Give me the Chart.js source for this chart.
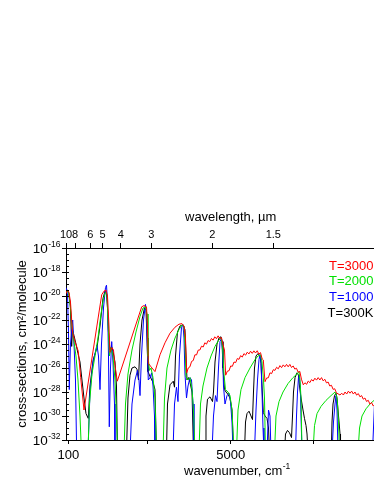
<!DOCTYPE html>
<html>
<head>
<meta charset="utf-8">
<script src="https://cdn.jsdelivr.net/npm/chart.js@4.4.1/dist/chart.umd.min.js"></script>
<style>
    html, body { margin: 0; padding: 0; background: #fff; }
    canvas { display: block; }
</style>
</head>
<body>
<canvas id="chart" width="374" height="484"></canvas>
<script>
// Datos: [número de onda (cm-1), log10 de la sección eficaz]
const red = [[31,-19.8],[76,-19.5],[121,-19.7],[166,-20.5],[227,-23],[302,-23.8],[402,-24.6],[474,-26.8],[574,-29.5],
    [1108,-19.9],[1177,-19.6],[1238,-19.5],[1283,-20],[1328,-22.5],[1358,-24.7],[1419,-24.3],[1464,-24.5],[1509,-25.8],[1579,-27.1],
    [2315,-20.9],[2384,-20.8],[2460,-20.9],[2490,-22.5],[2514,-25.6],[2596,-25.9],[2716,-26.3],
    [2867,-24.9],[3018,-23.9],[3169,-23.1],[3320,-22.6],[3440,-22.35],[3531,-22.3],[3591,-22.5],[3636,-23.5],[3673,-26.4],
    [3720,-26.0],[3770,-25.9],[3820,-25.45],[3870,-25.38],[3920,-24.9],[3970,-24.91],[4020,-24.51],[4070,-24.5],[4120,-24.18],[4170,-24.25],
    [4220,-23.9],[4270,-24.01],[4320,-23.71],[4370,-23.8],[4420,-23.54],[4470,-23.68],[4520,-23.4],[4570,-23.56],[4620,-23.32],[4670,-23.55],
    [4720,-23.46],[4770,-24.08],[4813,-24.5],[4849,-26.6],
    [4900,-26.26],[4950,-26.23],[5000,-25.83],[5050,-25.86],[5100,-25.5],[5150,-25.55],[5200,-25.21],[5250,-25.28],[5300,-24.97],[5350,-25.09],
    [5400,-24.8],[5450,-24.93],[5500,-24.68],[5550,-24.83],[5600,-24.6],[5650,-24.78],[5700,-24.57],[5750,-24.75],[5800,-24.56],[5850,-24.84],
    [5900,-24.72],[5950,-25.25],[5984,-25.33],[6035,-27.14],
    [6085,-26.83],[6135,-26.82],[6185,-26.4],[6235,-26.47],[6285,-26.14],[6335,-26.2],[6385,-25.94],[6435,-26.07],[6485,-25.8],[6535,-25.97],
    [6585,-25.74],[6635,-25.9],[6685,-25.7],[6735,-25.9],[6785,-25.7],[6835,-25.96],[6885,-25.83],[6935,-26.09],[6985,-26.02],[7035,-26.35],
    [7085,-26.28],[7135,-26.93],[7191,-27.4],
    [7240,-27.23],[7290,-27.36],[7340,-27.09],[7390,-27.22],[7440,-26.96],[7490,-27.09],[7540,-26.85],[7590,-27.01],[7640,-26.8],[7690,-27.0],
    [7740,-26.8],[7790,-27.07],[7840,-26.94],[7890,-27.24],[7940,-27.17],[7990,-27.5],[8040,-27.44],[8090,-27.78],[8140,-27.73],[8190,-28.07],
    [8299,-28.25],
    [8350,-28.1],[8400,-28.25],[8450,-28.0],[8500,-28.17],[8550,-27.93],[8600,-28.1],[8650,-27.93],[8700,-28.17],[8750,-28.0],[8800,-28.26],
    [8850,-28.13],[8900,-28.4],[8950,-28.3],[9000,-28.6],[9050,-28.5],[9100,-28.79],[9150,-28.69],[9200,-29.0],[9250,-28.88],[9300,-29.16],
    [9324,-29.1]];

const green = [[31,-19.7],[91,-19.6],[151,-20.5],[212,-22.5],[272,-23.8],[332,-25],[393,-27],[453,-30],[498,-33],
    [694,-33],[740,-29],[815,-26.5],[906,-25],[996,-23.5],[1087,-21.5],[1162,-20.2],[1222,-19.7],[1268,-19.9],[1298,-22],[1343,-25],[1388,-24.3],[1449,-25],[1509,-27],[1554,-30],[1585,-33],
    [1781,-33],[1826,-29],[1901,-26.5],[2022,-24.5],[2143,-23],[2264,-21.7],[2354,-21],[2429,-20.9],[2475,-21.5],[2505,-25],[2550,-26.2],[2596,-26],[2656,-26.8],[2716,-28.5],[2761,-33],
    [2958,-33],[3003,-28.5],[3078,-26],[3199,-24.5],[3320,-23.5],[3440,-22.8],[3531,-22.4],[3591,-22.5],[3621,-24],[3651,-26.7],[3712,-27],[3772,-26.8],[3833,-27.8],[3878,-29.5],[3923,-33],
    [4044,-33],[4089,-29],[4164,-27.5],[4285,-26],[4406,-25],[4527,-24.2],[4632,-23.7],[4708,-23.5],[4753,-24.2],[4798,-26.5],[4843,-27.8],[4919,-28],[4979,-28.3],[5040,-29.5],[5100,-33],
    [5175,-33],[5221,-29.5],[5311,-27.8],[5432,-26.8],[5583,-26],[5734,-25.3],[5824,-25],[5900,-24.9],[5945,-25.5],[5990,-27],[6020,-28.5],[6050,-33],
    [6322,-33],[6367,-30],[6458,-28.8],[6579,-28],[6729,-27.3],[6880,-26.8],[7001,-26.5],[7061,-26.3],[7092,-27.1],[7122,-28.5],[7152,-33],
    [7484,-33],[7529,-30.8],[7605,-29.8],[7725,-29.2],[7876,-28.7],[8027,-28.3],[8148,-28],[8193,-28.3],[8223,-29],[8253,-30.5],[8283,-33],
    [8842,-33],[8887,-31],[8962,-30],[9083,-29.4],[9204,-29],[9324,-28.7]];

const blue = [[31,-19.3],[76,-19.8],[106,-23],[130,-27.8],[166,-24],[233,-22],[272,-24],[317,-27],[353,-33],
    [694,-33],[755,-28],[845,-25.5],[966,-24.1],[1011,-25],[1057,-27.8],[1102,-24],[1162,-21],[1222,-19.3],[1253,-19.1],[1283,-20.5],[1313,-25],[1337,-30.9],[1373,-26],[1410,-23.8],[1449,-25.5],[1494,-29],[1509,-33],
    [1962,-33],[2022,-29],[2113,-27],[2188,-26.2],[2233,-27],[2264,-28.3],[2309,-25],[2369,-22],[2429,-20.7],[2460,-21.5],[2490,-25],[2514,-27],[2565,-26.8],[2617,-26.4],[2656,-27.5],[2701,-30],[2716,-33],
    [3259,-33],[3305,-29],[3365,-27.6],[3410,-28.8],[3455,-25],[3516,-22.6],[3561,-22.4],[3591,-23.5],[3621,-26.5],[3667,-28.5],[3712,-27.5],[3772,-26.8],[3818,-27],[3863,-29],[3893,-33],
    [4436,-33],[4481,-30],[4542,-28.3],[4587,-28.8],[4632,-26],[4678,-23.8],[4723,-23.5],[4753,-24.5],[4783,-27.5],[4828,-29],[4889,-28.3],[4949,-28.1],[4994,-28.8],[5040,-30.5],[5070,-33],
    [5718,-33],[5764,-29.5],[5809,-27],[5854,-25.3],[5885,-24.9],[5915,-25.5],[5945,-28],[5975,-31],[6005,-33],[6096,-33],[6141,-29.5],[6186,-30],[6216,-33],
    [6956,-33],[6986,-30],[7016,-28],[7046,-26.8],[7071,-26.6],[7098,-27.5],[7122,-30],[7152,-33],
    [8057,-33],[8102,-30.5],[8148,-29],[8178,-28.3],[8208,-29.5],[8238,-33],
    [9279,-33],[9339,-29]];

const black = [[31,-19.6],[76,-19.5],[121,-19.8],[166,-21],[202,-24.2],[227,-22.8],[272,-23.3],[332,-24],[393,-24.8],[453,-25.5],[513,-27],[574,-28.5],[634,-29.8],[703,-30.2],
    [755,-27.5],[854,-25.3],[966,-24.3],[1057,-22.5],[1147,-20.2],[1207,-19.6],[1253,-19.8],[1283,-21],[1313,-23],[1358,-24.5],[1404,-24.2],[1449,-24.6],[1509,-25.5],[1554,-27.5],[1585,-33],
    [1856,-33],[1901,-28.5],[1962,-26.6],[2022,-26],[2113,-25.9],[2173,-26.1],[2218,-27],[2264,-24],[2324,-22],[2399,-21],[2445,-21.2],[2475,-23.5],[2505,-26.3],[2565,-26.7],[2656,-27.2],[2716,-27.8],[2761,-33],
    [3063,-33],[3093,-29],[3169,-27.4],[3268,-27.1],[3305,-27.6],[3335,-25],[3395,-23],[3471,-22.5],[3561,-22.4],[3621,-22.8],[3651,-25],[3682,-27],[3727,-26.8],[3772,-27.2],[3833,-28],[3878,-33],
    [4225,-33],[4255,-30],[4300,-28.6],[4376,-28.4],[4451,-28.8],[4481,-28],[4527,-25.5],[4587,-24],[4647,-23.5],[4708,-23.4],[4738,-23.8],[4768,-26],[4813,-27.8],[4859,-28],[4919,-28.2],[4979,-28.5],[5040,-29.5],[5085,-33],
    [5417,-33],[5447,-30.5],[5492,-29.8],[5553,-29.6],[5613,-30],[5658,-30.3],[5688,-28],[5718,-26],[5764,-25],[5824,-24.8],[5885,-25],[5915,-25.6],[5945,-27.5],[5984,-29.7],[6035,-30],[6096,-30.2],[6141,-31],[6171,-33],
    [6624,-33],[6654,-31.5],[6714,-31.2],[6775,-31.4],[6835,-31.8],[6865,-30],[6895,-28],[6941,-26.8],[7001,-26.4],[7046,-26.6],[7076,-27.5],[7122,-28.5],[7182,-29.5],[7227,-30.2],[7273,-30.8],[7303,-31.5],[7333,-33],
    [8036,-33],[8057,-30.5],[8087,-29],[8133,-28.3],[8178,-28.1],[8208,-28.5],[8238,-29.5],[8277,-30.75],[8299,-31.5],[8314,-33]];

const seriesNames = ['T=3000', 'T=2000', 'T=1000', 'T=300K'];
const seriesColors = ['#ff0000', '#00e000', '#0000ff', '#000000'];

// Ejes
const bottomTicks = [100, 2500, 5000, 7500];
const bottomLabels = [100, 5000];
const wavelengthTicks = [10, 8, 6, 5, 4, 3, 2, 1.5];   // µm
const yLabelExps = [-16, -18, -20, -22, -24, -26, -28, -30, -32];

const FONT = '"Liberation Sans", Arial, Helvetica, sans-serif';

function toPoints(arr) {
    return arr.map(p => ({ x: p[0], y: Math.pow(10, p[1]) }));
}

// Ticks, etiquetas con exponente, títulos y leyenda
const decorations = {
    id: 'decorations',
    afterDraw(chart) {
        const ctx = chart.ctx;
        const ys = chart.scales.y;
        const left = chart.chartArea.left;
        ctx.save();
        ctx.strokeStyle = '#000';
        ctx.lineWidth = 1;
        ctx.beginPath();
        for (let k = -32; k <= -16; k += 0.5) {
            const py = Math.round(ys.getPixelForValue(Math.pow(10, k))) + 0.5;
            const major = yLabelExps.includes(k);
            ctx.moveTo(major ? left - 4 : left, py);
            ctx.lineTo(left + 3, py);
        }
        ctx.stroke();

        ctx.fillStyle = '#000';
        ctx.textBaseline = 'alphabetic';
        yLabelExps.forEach(k => {
            const py = ys.getPixelForValue(Math.pow(10, k));
            const exp = String(k);
            ctx.font = '8.5px ' + FONT;
            const we = ctx.measureText(exp).width;
            ctx.textAlign = 'left';
            ctx.fillText(exp, 60.5 - we, py - 1.3);
            ctx.font = '13.5px ' + FONT;
            ctx.textAlign = 'right';
            ctx.fillText('10', 60.5 - we - 0.5, py + 5.2);
        });

        // Títulos de ejes
        ctx.textAlign = 'left';
        ctx.font = '13px ' + FONT;
        ctx.fillText('wavelength, \u00b5m', 185, 221);
        const t = 'wavenumber, cm';
        ctx.fillText(t, 184, 475);
        const wt = ctx.measureText(t).width;
        ctx.font = '8.5px ' + FONT;
        ctx.fillText('-1', 184 + wt + 0.5, 469);

        ctx.save();
        ctx.font = '13px ' + FONT;
        ctx.translate(22, 344);
        ctx.rotate(-Math.PI / 2);
        ctx.textAlign = 'center';
        ctx.textBaseline = 'middle';
        ctx.fillText('cross-sections, cm\u00b2/molecule', 0, 0);
        ctx.restore();

        // Leyenda
        ctx.font = '13px ' + FONT;
        ctx.textAlign = 'right';
        seriesNames.forEach((name, i) => {
            ctx.fillStyle = seriesColors[i];
            ctx.fillText(name, 373.5, 269.5 + i * 15.7);
        });
        ctx.restore();
    }
};

const datasets = [red, green, blue, black].map((arr, i) => ({
    label: seriesNames[i],
    data: toPoints(arr),
    borderColor: seriesColors[i],
    borderWidth: 1,
    pointRadius: 0,
    tension: 0,
    fill: false
}));

new Chart(document.getElementById('chart'), {
    type: 'line',
    data: { datasets: datasets },
    options: {
        responsive: false,
        animation: false,
        events: [],
        layout: { padding: 0 },
        plugins: { legend: { display: false }, tooltip: { enabled: false } },
        scales: {
            x: {
                type: 'linear',
                position: 'bottom',
                min: 31,
                max: 9324,
                afterFit: s => { s.height = 44; },
                afterBuildTicks: s => { s.ticks = bottomTicks.map(v => ({ value: v })); },
                ticks: {
                    autoSkip: false,
                    maxRotation: 0,
                    padding: 4,
                    color: '#000',
                    font: { family: FONT, size: 13 },
                    callback: v => bottomLabels.includes(v) ? String(v) : ''
                },
                grid: { drawOnChartArea: false, drawTicks: true, tickLength: 4, color: '#000' },
                border: { display: true, color: '#000', width: 1 }
            },
            x2: {
                type: 'linear',
                position: 'top',
                min: 1000,
                max: 9420,
                afterFit: s => { s.height = 248; },
                afterBuildTicks: s => { s.ticks = wavelengthTicks.map(l => ({ value: 1e4 / l })); },
                ticks: {
                    autoSkip: false,
                    maxRotation: 0,
                    padding: 1,
                    color: '#000',
                    font: { family: FONT, size: 11 },
                    callback: v => String(Math.round(1e5 / v) / 10)
                },
                grid: { drawOnChartArea: false, drawTicks: true, tickLength: 5, color: '#000' },
                border: { display: true, color: '#000', width: 1 }
            },
            y: {
                type: 'logarithmic',
                min: 1e-32,
                max: 1e-16,
                afterFit: s => { s.width = 66; },
                ticks: { display: false },
                grid: { display: false },
                border: { display: true, color: '#000', width: 1 }
            }
        }
    },
    plugins: [decorations]
});
</script>
</body>
</html>
